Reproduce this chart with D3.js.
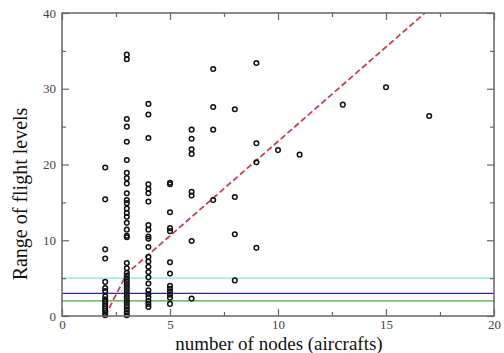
<!DOCTYPE html>
<html>
<head>
<meta charset="utf-8">
<script src="https://cdn.jsdelivr.net/npm/d3@7"></script>
<style>
  body { margin: 0; background: #fff; }
  svg { display: block; }
  text { font-family: "Liberation Serif", "Times New Roman", serif; }
</style>
</head>
<body>
<div id="canvas"></div>
<script>
// number of nodes per column and the ranges of flight levels observed at it
const nodeCounts = [2, 3, 4, 5, 6, 7, 8, 9, 10, 11, 13, 15, 17];
const ranges = [
  [19.6, 15.4, 8.8, 7.6, 4.5, 3.7, 3.3, 2.6, 2.2, 1.9, 1.6, 1.3, 1.0, 0.7, 0.4, 0.1],
  [34.5, 33.9, 26.0, 25.0, 23.0, 20.6, 18.9, 18.2, 17.5, 16.2, 15.3, 14.9, 14.2, 13.6, 13.1, 12.3,
   11.4, 10.6, 10.4, 7.0, 6.3, 5.7, 5.3, 4.9, 4.5, 4.1, 3.7, 3.3, 2.9, 2.5, 2.1, 1.7, 1.3, 0.9, 0.5, 0.1],
  [28.0, 26.6, 23.5, 17.4, 16.8, 16.2, 15.1, 12.0, 11.4, 10.5, 10.2, 9.1, 7.8, 7.2, 6.5, 5.8,
   5.1, 4.3, 3.4, 2.9, 2.5, 2.0, 1.6, 1.2],
  [17.6, 17.4, 13.7, 11.6, 11.2, 7.1, 5.6, 4.0, 3.6, 3.2, 2.8, 2.4, 1.6],
  [24.6, 23.4, 22.0, 21.4, 16.4, 15.9, 9.9, 2.3],
  [32.6, 27.6, 24.6, 15.3],
  [27.3, 15.7, 10.8, 4.7],
  [33.4, 22.8, 20.3, 9.0],
  [21.9],
  [21.3],
  [27.9],
  [30.2],
  [26.4]
];
// fitted trend (red dashed)
const trendX = [2, 3, 16.8];
const trendY = [0, 5.6, 40];
// horizontal reference levels
const levelValues = [5, 3, 2];
const levelColors = ["#86e3e6", "#2b2b9a", "#3fae3f"];

const xTicks = [0, 5, 10, 15, 20];
const xMinor = [2.5, 7.5, 12.5, 17.5];
const yTicks = [0, 10, 20, 30, 40];
const yMinor = [5, 15, 25, 35];

const W = 504, H = 353;
const margin = { top: 13, right: 10, bottom: 37, left: 62 };
const iw = W - margin.left - margin.right;
const ih = H - margin.top - margin.bottom;

const points = [];
nodeCounts.forEach((n, i) => ranges[i].forEach(v => points.push({ x: n, y: v })));

const x = d3.scaleLinear().domain([0, 20]).range([0, iw]);
const y = d3.scaleLinear().domain([0, 40]).range([ih, 0]);

const svg = d3.select("#canvas").append("svg")
  .attr("width", W)
  .attr("height", H);
const g = svg.append("g").attr("transform", `translate(${margin.left},${margin.top})`);

// reference levels
g.selectAll("line.level")
  .data(levelValues)
  .enter()
  .append("line")
  .attr("class", "level")
  .attr("x1", 0).attr("x2", iw)
  .attr("y1", d => y(d)).attr("y2", d => y(d))
  .attr("stroke", (d, i) => levelColors[i])
  .attr("stroke-width", 1.3);

// trend line, clipped to the frame
g.append("clipPath").attr("id", "clip")
  .append("rect").attr("width", iw).attr("height", ih);
g.append("path")
  .datum(trendX.map((d, i) => [d, trendY[i]]))
  .attr("clip-path", "url(#clip)")
  .attr("fill", "none")
  .attr("stroke", "#c8404c")
  .attr("stroke-width", 1.8)
  .attr("stroke-dasharray", "6,3")
  .attr("d", d3.line().x(d => x(d[0])).y(d => y(d[1])));

// points
g.selectAll("circle")
  .data(points)
  .enter()
  .append("circle")
  .attr("cx", p => x(p.x))
  .attr("cy", p => y(p.y))
  .attr("r", 2.3)
  .attr("fill", "none")
  .attr("stroke", "#111")
  .attr("stroke-width", 1.5);

// frame with inward ticks on all sides
const frameColor = "#666";
const addAxis = (axis, transform) => {
  const a = g.append("g").attr("transform", transform).call(axis);
  a.select(".domain").remove();
  a.selectAll("line").attr("stroke", frameColor).attr("stroke-width", 1.2);
  a.selectAll("text")
    .attr("fill", "#444")
    .style("font-size", "13px");
  return a;
};

addAxis(d3.axisBottom(x).tickValues(xTicks).tickSize(-7).tickPadding(4).tickFormat(d3.format("d")), `translate(0,${ih})`);
addAxis(d3.axisBottom(x).tickValues(xMinor).tickSize(-4).tickFormat(""), `translate(0,${ih})`);
addAxis(d3.axisTop(x).tickValues(xTicks).tickSize(-7).tickFormat(""), "translate(0,0)");
addAxis(d3.axisTop(x).tickValues(xMinor).tickSize(-4).tickFormat(""), "translate(0,0)");
addAxis(d3.axisLeft(y).tickValues(yTicks).tickSize(-7).tickPadding(6).tickFormat(d3.format("d")), "translate(0,0)");
addAxis(d3.axisLeft(y).tickValues(yMinor).tickSize(-4).tickFormat(""), "translate(0,0)");
addAxis(d3.axisRight(y).tickValues(yTicks).tickSize(-7).tickFormat(""), `translate(${iw},0)`);
addAxis(d3.axisRight(y).tickValues(yMinor).tickSize(-4).tickFormat(""), `translate(${iw},0)`);

g.append("rect")
  .attr("width", iw).attr("height", ih)
  .attr("fill", "none")
  .attr("stroke", frameColor)
  .attr("stroke-width", 1.5);

// axis titles
svg.append("text")
  .attr("x", margin.left + iw / 2 + 1)
  .attr("y", 350)
  .attr("text-anchor", "middle")
  .style("font-size", "19px")
  .attr("fill", "#111")
  .text("number of nodes (aircrafts)");

svg.append("text")
  .attr("transform", "translate(27,194) rotate(-90)")
  .attr("text-anchor", "middle")
  .style("font-size", "20px")
  .attr("fill", "#111")
  .text("Range of flight levels");
</script>
</body>
</html>
